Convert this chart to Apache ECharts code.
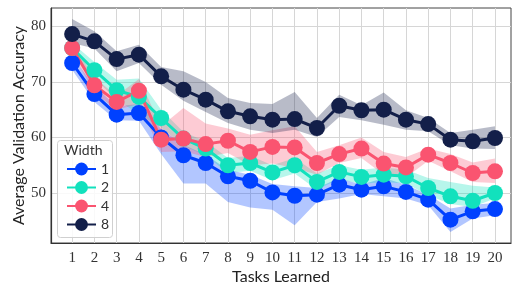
<!DOCTYPE html>
<html>
<head>
<meta charset="utf-8">
<script src="https://cdn.jsdelivr.net/npm/echarts@6/dist/echarts.min.js"></script>
<style>
  html, body { margin: 0; padding: 0; background: #fff; }
  #chart { width: 512px; height: 282px; }
</style>
</head>
<body>
<div id="chart"></div>
<script>
// tasks on the x axis
var tasks = [1, 2, 3, 4, 5, 6, 7, 8, 9, 10, 11, 12, 13, 14, 15, 16, 17, 18, 19, 20];
var yTicks = [50, 60, 70, 80];

// width 1
var w1Mean  = [73.4, 67.8, 64.1, 64.4, 60.0, 56.8, 55.4, 53.0, 52.2, 50.1, 49.5, 49.7, 51.5, 50.6, 51.2, 50.2, 48.8, 45.2, 46.7, 47.1];
var w1Upper = [74.6, 69.2, 65.6, 66.0, 61.5, 58.7, 56.9, 54.2, 53.3, 51.6, 51.2, 50.9, 52.7, 51.5, 52.7, 51.5, 49.7, 47.2, 47.9, 48.2];
var w1Lower = [72.2, 66.4, 63.1, 63.0, 57.0, 51.7, 51.7, 48.4, 47.4, 47.0, 44.2, 48.4, 49.0, 49.8, 49.4, 49.0, 47.8, 43.0, 45.4, 46.0];

// width 2
var w2Mean  = [76.1, 72.1, 68.5, 67.3, 63.5, 59.8, 58.0, 55.0, 55.4, 53.7, 55.0, 52.0, 53.8, 52.9, 53.3, 53.0, 50.9, 49.4, 48.6, 50.0];
var w2Upper = [77.0, 73.6, 70.4, 70.6, 65.0, 61.0, 59.3, 56.3, 56.7, 55.0, 56.3, 53.5, 55.0, 54.2, 54.6, 54.2, 52.7, 52.0, 51.3, 51.0];
var w2Lower = [75.2, 70.6, 66.8, 64.2, 61.8, 58.5, 56.7, 53.6, 54.0, 52.3, 53.5, 50.6, 52.5, 51.6, 52.0, 51.7, 49.6, 48.0, 47.5, 49.0];

// width 4
var w4Mean  = [76.1, 69.4, 66.4, 68.4, 59.6, 59.8, 58.8, 59.4, 57.4, 58.3, 58.2, 55.4, 57.0, 58.0, 55.3, 54.6, 56.9, 55.4, 53.6, 53.9];
var w4Upper = [77.0, 70.8, 67.5, 70.5, 62.0, 65.3, 62.5, 61.6, 60.5, 61.3, 62.0, 57.4, 58.6, 60.0, 57.4, 56.5, 58.0, 57.0, 55.5, 56.2];
var w4Lower = [75.2, 68.0, 65.0, 66.0, 57.4, 57.5, 56.5, 57.2, 55.0, 55.3, 54.5, 53.3, 55.4, 56.3, 53.3, 52.8, 55.8, 53.9, 52.0, 51.8];

// width 8
var w8Mean  = [78.6, 77.3, 74.1, 74.9, 71.0, 68.6, 66.8, 64.7, 63.8, 63.2, 63.3, 61.7, 65.7, 64.9, 65.0, 63.2, 62.4, 59.6, 59.3, 59.9];
var w8Upper = [81.3, 79.1, 75.5, 76.7, 72.7, 71.9, 70.0, 67.1, 66.2, 66.0, 68.2, 63.5, 67.7, 65.8, 68.1, 64.9, 63.5, 60.8, 61.4, 62.0];
var w8Lower = [77.0, 76.0, 71.9, 73.4, 69.5, 66.6, 64.6, 62.6, 61.4, 60.8, 61.4, 60.1, 63.7, 63.1, 62.3, 61.4, 61.1, 58.6, 58.0, 57.9];

var groups = [
  { name: '1', color: '#0041ff', mean: w1Mean, upper: w1Upper, lower: w1Lower },
  { name: '2', color: '#12e1bd', mean: w2Mean, upper: w2Upper, lower: w2Lower },
  { name: '4', color: '#fa5470', mean: w4Mean, upper: w4Upper, lower: w4Lower },
  { name: '8', color: '#131f49', mean: w8Mean, upper: w8Upper, lower: w8Lower }
];

function pairs(vals) {
  return tasks.map(function (t, i) { return [t, vals[i]]; });
}

// band polygon built through the axis scales
function bandRenderer(g) {
  return function (params, api) {
    if (params.dataIndex !== 0) return;
    var pts = [];
    tasks.forEach(function (t, i) { pts.push(api.coord([t, g.upper[i]])); });
    for (var i = tasks.length - 1; i >= 0; i--) pts.push(api.coord([tasks[i], g.lower[i]]));
    return {
      type: 'polygon',
      shape: { points: pts },
      style: { fill: g.color, opacity: 0.3 }
    };
  };
}

var series = [];
groups.forEach(function (g) {
  series.push({
    name: 'band' + g.name, type: 'custom',
    data: pairs(g.mean), renderItem: bandRenderer(g),
    clip: true, silent: true
  });
  series.push({
    name: g.name, type: 'line', data: pairs(g.mean),
    symbol: 'circle', symbolSize: 16,
    itemStyle: { color: g.color },
    lineStyle: { color: g.color, width: 3 }
  });
});

var chart = echarts.init(document.getElementById('chart'));
chart.setOption({
  animation: false,
  grid: {
    left: 51, right: 1, top: 8, bottom: 39,
    outerBoundsMode: 'none', containLabel: false,
    show: true, borderColor: '#444', borderWidth: 1
  },
  xAxis: {
    type: 'value', min: 0.05, max: 20.72,
    name: 'Tasks Learned', nameLocation: 'middle', nameGap: 26, nameMoveOverlap: false,
    nameTextStyle: { fontFamily: 'Lato', fontSize: 16, color: '#222' },
    axisLine: { show: true, lineStyle: { color: '#333', width: 1.2 } },
    axisTick: { show: false, customValues: tasks },
    axisLabel: { customValues: tasks, fontFamily: 'Liberation Serif', fontSize: 15, color: '#333', margin: 8 },
    splitLine: { show: true, lineStyle: { color: '#d6d6d6', width: 1 } }
  },
  yAxis: {
    type: 'value', min: 41, max: 83.3,
    name: 'Average Validation Accuracy', nameLocation: 'middle', nameGap: 24, nameMoveOverlap: false,
    nameTextStyle: { fontFamily: 'Lato', fontSize: 16, color: '#222' },
    axisLine: { show: true, lineStyle: { color: '#333', width: 1.2 } },
    axisTick: { show: false, customValues: yTicks },
    axisLabel: { customValues: yTicks, fontFamily: 'Liberation Serif', fontSize: 15, color: '#333', margin: 5 },
    splitLine: { show: true, lineStyle: { color: '#d6d6d6', width: 1 } }
  },
  legend: {
    data: ['1', '2', '4', '8'],
    orient: 'vertical', left: 61, top: 157, z: 10,
    itemWidth: 29, itemHeight: 16, itemGap: 4.5,
    textStyle: { fontFamily: 'Lato', fontSize: 14, color: '#333' }
  },
  graphic: [
    {
      type: 'rect', left: 57, top: 140, z: 5,
      shape: { width: 55, height: 97, r: 3 },
      style: { fill: 'rgba(255,255,255,0.85)', stroke: '#d0d0d0', lineWidth: 1 }
    },
    {
      type: 'text', left: 64, top: 143, z: 11,
      style: { text: 'Width', fontFamily: 'Lato', fontSize: 14, fill: '#333' }
    }
  ],
  series: series
});
</script>
</body>
</html>
